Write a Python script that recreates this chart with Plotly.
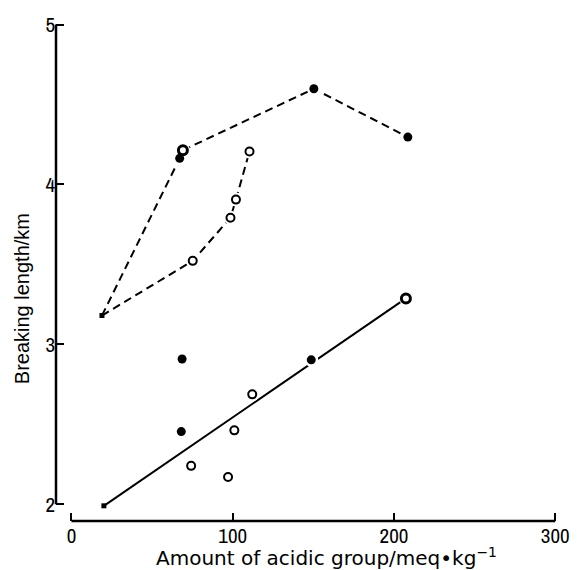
import plotly.graph_objects as go

# --- data ---
dashA_x = [18.9, 67.1]
dashA_y = [3.18, 4.163]
dashA2_x = [69.1, 150.3, 208.6]
dashA2_y = [4.214, 4.598, 4.296]
dashB_x = [18.9, 75.2, 98.6, 102.0, 110.4]
dashB_y = [3.18, 3.522, 3.792, 3.905, 4.206]
fit_x = [20.1, 207.4]
fit_y = [1.99, 3.287]

filled_x = [67.1, 150.3, 208.6, 68.6, 68.1, 148.7]
filled_y = [4.163, 4.598, 4.296, 2.908, 2.454, 2.903]
open_x = [75.2, 98.6, 102.0, 110.4, 74.2, 97.1, 101.0, 112.1]
open_y = [3.522, 3.792, 3.905, 4.206, 2.240, 2.170, 2.462, 2.687]
thick_x = [69.1, 207.4]
thick_y = [4.214, 3.287]
square_x = [18.9, 20.1]
square_y = [3.18, 1.99]

x_ticks = [0, 100, 200, 300]
y_ticks = [2, 3, 4, 5]

xr = [-9.6, 307.3]
yr = [1.895, 5.047]

fig = go.Figure()
dash = "8px,5px"
for xs, ys, d in [(dashA_x, dashA_y, dash), (dashA2_x, dashA2_y, dash),
                  (dashB_x, dashB_y, dash), (fit_x, fit_y, "solid")]:
    fig.add_trace(go.Scatter(x=xs, y=ys, mode="lines",
                             line=dict(color="black", width=2, dash=d),
                             hoverinfo="skip"))

all_x = filled_x + open_x + thick_x
all_y = filled_y + open_y + thick_y
fig.add_trace(go.Scatter(x=all_x, y=all_y, mode="markers",
                         marker=dict(symbol="circle", size=14, color="white"),
                         hoverinfo="skip"))
fig.add_trace(go.Scatter(x=filled_x, y=filled_y, mode="markers",
                         marker=dict(symbol="circle", size=9, color="black",
                                     line=dict(width=0))))
fig.add_trace(go.Scatter(x=open_x, y=open_y, mode="markers",
                         marker=dict(symbol="circle", size=8, color="white",
                                     line=dict(width=2, color="black"))))
fig.add_trace(go.Scatter(x=thick_x, y=thick_y, mode="markers",
                         marker=dict(symbol="circle", size=9, color="white",
                                     line=dict(width=3, color="black"))))
fig.add_trace(go.Scatter(x=square_x, y=square_y, mode="markers",
                         marker=dict(symbol="square", size=5, color="black")))

tickfont = dict(family="Archivo Narrow, DejaVu Sans Condensed, Liberation Sans",
                size=21, color="black")
fig.update_layout(
    width=580, height=570,
    margin=dict(l=56, r=10, t=12, b=49),
    paper_bgcolor="white", plot_bgcolor="white",
    showlegend=False,
    xaxis=dict(range=xr, tickvals=x_ticks, ticks="inside", ticklen=8,
               tickwidth=2, tickcolor="black", showgrid=False, zeroline=False,
               showline=False, tickfont=tickfont, ticklabelstandoff=0),
    yaxis=dict(range=yr, tickvals=y_ticks, ticks="inside", ticklen=8,
               tickwidth=2, tickcolor="black", showgrid=False, zeroline=False,
               showline=False, tickfont=tickfont, ticklabelstandoff=0),
    shapes=[
        dict(type="line", xref="x", yref="paper", x0=x_ticks[0], x1=x_ticks[-1],
             y0=0, y1=0, line=dict(color="black", width=2.5)),
        dict(type="line", xref="paper", yref="y", x0=0, x1=0,
             y0=y_ticks[0], y1=y_ticks[-1], line=dict(color="black", width=2.5)),
    ],
    annotations=[
        dict(text="Amount of acidic group/meq\u2022kg<sup>\u22121</sup>",
             xref="paper", yref="paper", x=(328 - 56) / 514, y=0, yshift=-36,
             showarrow=False, yanchor="middle",
             font=dict(family="DejaVu Sans", size=20, color="black")),
        dict(text="Breaking length/km", xref="paper", yref="paper",
             x=0, xshift=-34, y=(521 - 297) / 509, textangle=-90, showarrow=False,
             xanchor="center", yanchor="middle",
             font=dict(family="Liberation Sans", size=20, color="black")),
    ],
)

fig.write_html("out.html")
